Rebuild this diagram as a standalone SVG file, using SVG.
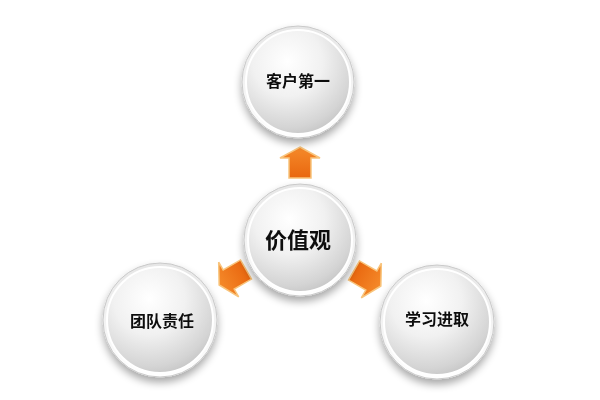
<svg xmlns="http://www.w3.org/2000/svg" width="600" height="400" viewBox="0 0 600 400">
<defs>
<radialGradient id="ball" cx="0.4" cy="0.3" r="0.75">
<stop offset="0" stop-color="#ffffff"/>
<stop offset="0.45" stop-color="#f1f1f1"/>
<stop offset="0.85" stop-color="#d4d4d4"/>
<stop offset="1" stop-color="#c4c4c4"/>
</radialGradient>
<linearGradient id="rim" x1="0" y1="0" x2="0" y2="1">
<stop offset="0" stop-color="#e6e6e6"/>
<stop offset="1" stop-color="#ffffff"/>
</linearGradient>
<linearGradient id="org" x1="0" y1="0" x2="0" y2="1">
<stop offset="0" stop-color="#f58a2a"/>
<stop offset="1" stop-color="#e9670f"/>
</linearGradient>
<filter id="sh" x="-30%" y="-30%" width="160%" height="170%">
<feGaussianBlur in="SourceAlpha" stdDeviation="4"/>
<feOffset dx="0" dy="5" result="b"/>
<feComponentTransfer><feFuncA type="linear" slope="0.35"/></feComponentTransfer>
<feMerge><feMergeNode/><feMergeNode in="SourceGraphic"/></feMerge>
</filter>
<polygon id="arr" points="0,-16 20,-5 11,-5 11,15 -11,15 -11,-5 -20,-5"/>
</defs>
<style>
.outer{fill:url(#rim);stroke:#c9c9c9;stroke-width:1}
.inner{fill:url(#ball);stroke:#ffffff;stroke-width:2}
.lbl{font-family:"Noto Sans CJK SC","Noto Sans",sans-serif;font-weight:bold;fill:#111;text-anchor:middle;dominant-baseline:central}
.arrow{fill:url(#org);stroke:#f8c47c;stroke-width:1.5;stroke-linejoin:miter}
</style>
<rect width="600" height="400" fill="#ffffff"/>
<g id="connectors">
<use href="#arr" class="arrow" transform="translate(300,163)"/>
<use href="#arr" class="arrow" transform="translate(233,277) rotate(-120)"/>
<use href="#arr" class="arrow" transform="translate(367,278) rotate(120)"/>
</g>
<g id="node-top" filter="url(#sh)">
<circle cx="298" cy="82" r="56" class="outer"/>
<circle cx="298" cy="82" r="52" class="inner"/>
<text x="298" y="80" class="lbl" font-size="16">客户第一</text>
</g>
<g id="node-center" filter="url(#sh)">
<circle cx="300" cy="240" r="56" class="outer"/>
<circle cx="300" cy="240" r="52" class="inner"/>
<text x="298" y="238" class="lbl" font-size="22">价值观</text>
</g>
<g id="node-left" filter="url(#sh)">
<circle cx="160" cy="320" r="57" class="outer"/>
<circle cx="160" cy="320" r="53" class="inner"/>
<text x="162" y="320" class="lbl" font-size="16">团队责任</text>
</g>
<g id="node-right" filter="url(#sh)">
<circle cx="437" cy="322" r="57" class="outer"/>
<circle cx="437" cy="322" r="53" class="inner"/>
<text x="437" y="318" class="lbl" font-size="16">学习进取</text>
</g>
</svg>
